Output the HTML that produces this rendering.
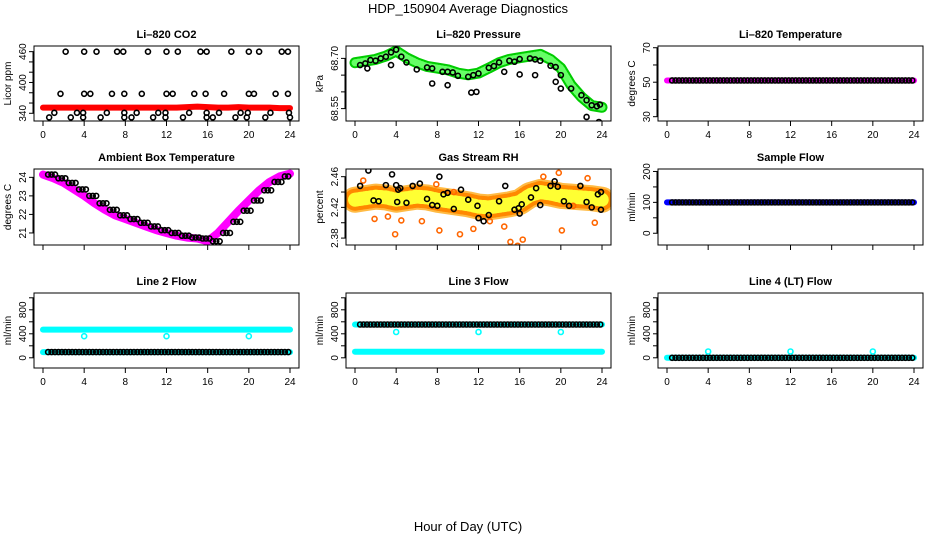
<!DOCTYPE html>
<html><head><meta charset="utf-8"><style>
body{margin:0;background:#fff}
svg{display:block;font-family:"Liberation Sans",Arial,sans-serif}
</style></head><body>
<svg id="c" width="936" height="540" xmlns="http://www.w3.org/2000/svg">
<text x="468" y="13" text-anchor="middle" font-size="13">HDP_150904  Average Diagnostics</text>
<text x="468" y="531" text-anchor="middle" font-size="13">Hour of Day (UTC)</text>
</svg>
<script>
const xTicks=[0,4,8,12,16,20,24];
const hours=[0,1,2,3,4,5,6,7,8,9,10,11,12,13,14,15,16,17,18,19,20,21,22,23,24];
// CO2
const co2Red=[351,351,351,351,351,351,351,351,351,351,351,351,351,351,352,353,352,351,351,352,351,351,351,350,350];
const co2BlackH=[2.2,4.0,5.2,7.2,7.8,10.2,12.0,13.1,15.3,15.9,18.3,20.0,21.0,23.2,23.8,1.7,4.0,4.6,6.7,7.9,9.6,12.0,12.6,14.7,15.8,17.6,20.0,20.5,22.6,23.8,1.1,3.3,3.9,6.2,7.9,9.1,11.2,11.9,14.2,15.9,17.1,19.2,19.9,22.1,23.9,0.6,2.7,3.9,5.6,7.9,8.6,10.7,11.9,13.6,15.9,16.5,18.7,19.8,21.6,24.0];
const co2BlackV=[460,460,460,460,460,460,460,460,460,460,460,460,460,460,460,378,378,378,378,378,378,378,378,378,378,378,378,378,378,378,341,341,341,341,341,341,341,341,341,341,341,341,341,341,341,332,332,332,332,332,332,332,332,332,332,332,332,332,332,332];
// Pressure
const presGreen=[68.687,68.692,68.697,68.707,68.722,68.702,68.687,68.676,68.671,68.666,68.656,68.651,68.656,68.671,68.687,68.697,68.702,68.707,68.712,68.697,68.671,68.620,68.585,68.559,68.554];
const presBlackH=[0.5,1,1.5,2,2.5,3,3.5,4,4.5,5,6,7,7.5,8.5,9,9.5,10,11,11.5,12,13,13.5,14,15,15.5,16,17,17.5,18,19,19.5,20,21,22,22.5,23,23.5,23.8,1.2,3.5,7.5,9,11.3,11.8,14.5,16,17.5,19.5,20,22.5,23.7];
const presBlackV=[68.680,68.685,68.695,68.693,68.700,68.705,68.718,68.726,68.705,68.688,68.667,68.673,68.670,68.660,68.660,68.658,68.648,68.645,68.650,68.655,68.672,68.677,68.688,68.693,68.690,68.698,68.700,68.697,68.693,68.678,68.674,68.650,68.610,68.590,68.575,68.560,68.557,68.562,68.670,68.680,68.625,68.620,68.598,68.600,68.660,68.652,68.650,68.630,68.610,68.525,68.510];
// Li-820 temperature
const liTemp=[51,51,51,51,51,51,51,51,51,51,51,51,51,51,51,51,51,51,51,51,51,51,51,51,51];
// Ambient
const ambient=[24.15,23.95,23.7,23.35,23.0,22.6,22.25,21.95,21.75,21.55,21.35,21.15,21.0,20.85,20.75,20.7,20.55,21.0,21.6,22.2,22.75,23.3,23.75,24.05,24.2];
// RH
const rhBand=[2.430,2.432,2.434,2.433,2.430,2.432,2.434,2.433,2.430,2.428,2.426,2.424,2.421,2.420,2.422,2.424,2.427,2.436,2.440,2.438,2.435,2.434,2.433,2.432,2.430];
const rhBlackH=[0.5,1.3,1.8,2.3,3,3.6,4.1,4.2,4.4,5,5.6,6.3,7,7.5,8,8.6,9,9.6,10.3,11,11.9,12.5,13,14,14.6,15.5,16,16.2,17.1,17.6,18,19,19.4,19.7,20.3,20.8,21.9,22.5,23,23.6,23.9,23.9,12,15.9,8.2,4];
const rhBlackV=[2.448,2.468,2.429,2.428,2.449,2.463,2.427,2.443,2.445,2.426,2.448,2.451,2.431,2.423,2.422,2.437,2.439,2.418,2.443,2.430,2.422,2.402,2.410,2.428,2.448,2.417,2.412,2.424,2.433,2.445,2.423,2.448,2.454,2.447,2.428,2.422,2.448,2.427,2.420,2.437,2.440,2.417,2.406,2.419,2.460,2.449];
const rhOrangeH=[0.8,1.9,3.2,3.9,4.5,6.5,7.9,8.2,9.6,10.2,11.5,13.1,14.5,15.1,15.8,16.3,18.3,19.8,20.1,21.2,22.6,23.3];
const rhOrangeV=[2.455,2.405,2.408,2.385,2.403,2.402,2.450,2.390,2.440,2.385,2.392,2.402,2.395,2.375,2.370,2.378,2.460,2.465,2.390,2.422,2.458,2.400];
// Sample flow
const sampleFlow=[100,100,100,100,100,100,100,100,100,100,100,100,100,100,100,100,100,100,100,100,100,100,100,100,100];
// Line flows
const line2Hi=[470,470,470,470,470,470,470,470,470,470,470,470,470,470,470,470,470,470,470,470,470,470,470,470,470];
const line2Lo=[95,95,95,95,95,95,95,95,95,95,95,95,95,95,95,95,95,95,95,95,95,95,95,95,95];
const line3Hi=[555,555,555,555,555,555,555,555,555,555,555,555,555,555,555,555,555,555,555,555,555,555,555,555,555];
const line3Lo=[100,100,100,100,100,100,100,100,100,100,100,100,100,100,100,100,100,100,100,100,100,100,100,100,100];
const line4=[0,0,0,0,0,0,0,0,0,0,0,0,0,0,0,0,0,0,0,0,0,0,0,0,0];
const outH=[4,12,20];
const line2Out=[360,360,360];
const line3Out=[430,430,430];
const line4Out=[105,105,105];

const svg=document.getElementById('c');
const NS='http://www.w3.org/2000/svg';
function mk(tag,at,parent){const e=document.createElementNS(NS,tag);for(const k in at)e.setAttribute(k,at[k]);(parent||svg).appendChild(e);return e;}

function panel(name,col,row,title,ylab,ymin,ymax,yTicks,yLabels,showX){
  const L=34+col*312,R=299+col*312;
  const T=[46,169,293][row],B=[121,245,368][row];
  const g=mk('g',{});
  
  
  const xs=h=>L+9+h*(R-L-18)/24;
  const ys=v=>B-(v-ymin)/(ymax-ymin)*(B-T);
  const t=mk('text',{x:(L+R)/2,y:T-8,'text-anchor':'middle','font-size':11,'font-weight':'bold'},g);
  t.textContent=title;
  
  
  const yl=mk('text',{transform:`translate(${L-23},${(T+B)/2}) rotate(-90)`,'text-anchor':'middle','font-size':10},g);
  yl.textContent=ylab;
  
  
  xTicks.forEach(h=>{
    mk('line',{x1:xs(h),x2:xs(h),y1:B,y2:B+5,stroke:'#000'},g);
    if(showX){const tx=mk('text',{x:xs(h),y:B+17,'text-anchor':'middle','font-size':10},g);tx.textContent=h;
      
      }
  });
  yTicks.forEach((v,i)=>{
    mk('line',{x1:L-5,x2:L,y1:ys(v),y2:ys(v),stroke:'#000'},g);
    if(yLabels[i]!==''){const ty=mk('text',{transform:`translate(${L-8},${ys(v)}) rotate(-90)`,'text-anchor':'middle','font-size':10},g);ty.textContent=yLabels[i];
      
      }
  });
  mk('line',{x1:L-1,x2:L-1,y1:ys(yTicks[0]),y2:ys(yTicks[yTicks.length-1]),stroke:'#000'},g);
  const clip=mk('clipPath',{id:'cl'+name},g);mk('rect',{x:L,y:T,width:R-L,height:B-T},clip);
  const pg=mk('g',{'clip-path':`url(#cl${name})`},g);
  mk('rect',{x:L,y:T,width:R-L,height:B-T,fill:'none',stroke:'#000'},g);
  return {xs,ys,g:pg};
}
function band(p,vals,color,w,name,dash){
  const pts=hours.map((h,i)=>p.xs(h)+','+p.ys(vals[i])).join(' ');
  const e=mk('polyline',{points:pts,fill:'none',stroke:color,'stroke-width':w,'stroke-linejoin':'round','stroke-linecap':'round'},p.g);
  if(dash)e.setAttribute('stroke-dasharray',dash);
  
  
}
function pts(p,hs,vs,color,name){
  hs.forEach((h,i)=>{
    const c=mk('circle',{cx:p.xs(h),cy:p.ys(vs[i]),r:2.5,fill:'none',stroke:color,'stroke-width':1.6},p.g);
    
    
  });
}
function stepPts(p,vals,color,name){
  for(let i=0;i<24;i++)for(let k=0;k<3;k++){
    const h=hours[i]+0.5+k/3; if(h>24)continue;
    const c=mk('circle',{cx:p.xs(h),cy:p.ys(vals[i]),r:2.5,fill:'none',stroke:color,'stroke-width':1.6},p.g);
    
    
  }
}

let p;
p=panel('co2',0,0,'Li\u2013820 CO2','Licor ppm',325,471,[340,360,380,400,420,440,460],['340','','','400','','','460'],true);
band(p,co2Red,'#f00',6,'co2-red-series');
pts(p,co2BlackH,co2BlackV,'#000','co2-black-point');

p=panel('pressure',1,0,'Li\u2013820 Pressure','kPa',68.513,68.737,[68.55,68.60,68.65,68.70],['68.55','','','68.70'],true);
band(p,presGreen,'#0c0',11,'pressure-green-series');
band(p,presGreen,'#6f6',7,'pressure-green-core','1 2');
pts(p,presBlackH,presBlackV,'#000','pressure-black-point');

p=panel('li-temp',2,0,'Li\u2013820 Temperature','degrees C',27.5,71,[30,40,50,60,70],['30','','50','','70'],true);
band(p,liTemp,'#f0f',6,'li-temp-magenta-series');
stepPts(p,liTemp,'#000','li-temp-black-point');

p=panel('ambient',0,1,'Ambient Box Temperature','degrees C',20.35,24.45,[21,22,23,24],['21','22','23','24'],false);
band(p,ambient,'#f0f',8,'ambient-magenta-series');
stepPts(p,ambient,'#000','ambient-black-point');

p=panel('rh',1,1,'Gas Stream RH','percent',2.371,2.470,[2.38,2.40,2.42,2.44,2.46],['2.38','','2.42','','2.46'],false);
band(p,rhBand,'#fb4',26,'rh-orange-series');
band(p,rhBand,'#f80',22,'rh-orange-dots','1 2');
band(p,rhBand,'#ff3',14,'rh-yellow-series','2 3');
pts(p,rhOrangeH,rhOrangeV,'#f60','rh-orange-point');
pts(p,rhBlackH,rhBlackV,'#000','rh-black-point');

p=panel('sample-flow',2,1,'Sample Flow','ml/min',-38,208,[0,50,100,150,200],['0','','100','','200'],false);
band(p,sampleFlow,'#00f',6,'sample-flow-blue-series');
stepPts(p,sampleFlow,'#000','sample-flow-black-point');

p=panel('line2',0,2,'Line 2 Flow','ml/min',-170,1080,[0,200,400,600,800,1000],['0','','400','','800',''],true);
band(p,line2Hi,'#0ff',6,'line2-cyan-high-series');
band(p,line2Lo,'#0ff',6,'line2-cyan-low-series');
stepPts(p,line2Lo,'#000','line2-black-point');
pts(p,outH,line2Out,'#0ff','line2-cyan-outlier');

p=panel('line3',1,2,'Line 3 Flow','ml/min',-170,1080,[0,200,400,600,800,1000],['0','','400','','800',''],true);
band(p,line3Hi,'#0ff',6,'line3-cyan-high-series');
band(p,line3Lo,'#0ff',6,'line3-cyan-low-series');
stepPts(p,line3Hi,'#000','line3-black-point');
pts(p,outH,line3Out,'#0ff','line3-cyan-outlier');

p=panel('line4',2,2,'Line 4 (LT) Flow','ml/min',-170,1080,[0,200,400,600,800,1000],['0','','400','','800',''],true);
band(p,line4,'#0ff',6,'line4-cyan-series');
stepPts(p,line4,'#000','line4-black-point');
pts(p,outH,line4Out,'#0ff','line4-cyan-outlier');
</script>
</body></html>
